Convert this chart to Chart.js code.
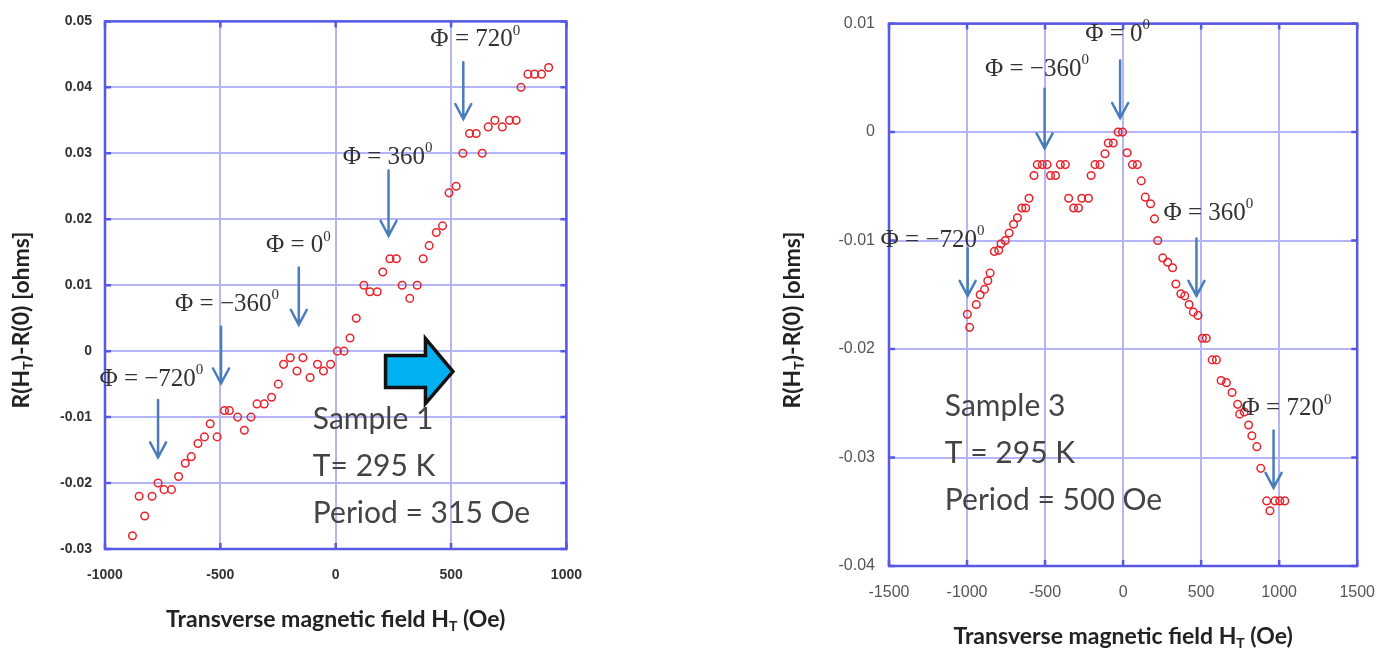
<!DOCTYPE html>
<html>
<head>
<meta charset="utf-8">
<script src="https://cdn.jsdelivr.net/npm/chart.js@4.4.1/dist/chart.umd.min.js"></script>
<style>
  html, body { margin: 0; padding: 0; background: #fff; width: 1392px; height: 652px; overflow: hidden; }
  canvas { position: absolute; top: 0; }
  #sample1 { left: 0; }
  #sample3 { left: 780px; }
</style>
</head>
<body>
<canvas id="sample1" width="600" height="652"></canvas>
<canvas id="sample3" width="612" height="652"></canvas>
<script>
// Sample 1 (period 315 Oe): field in Oe, R(H_T)-R(0) in ohms
const sample1Field = [-881, -852, -828, -796, -770, -744, -712, -681, -652, -626,
  -597, -569, -544, -514, -482, -461, -425, -396, -367, -341,
  -310, -278, -249, -226, -197, -168, -142, -111, -79, -53,
  -22, 7, 36, 62, 89, 122, 148, 180, 204, 235,
  263, 288, 321, 353, 379, 405, 436, 463, 491, 522,
  551, 580, 609, 635, 661, 690, 722, 753, 782, 803,
  833, 862, 892, 923];
const sample1Resistance = [-0.028, -0.022, -0.025, -0.022, -0.020, -0.021, -0.021, -0.019, -0.017, -0.016,
  -0.014, -0.013, -0.011, -0.013, -0.009, -0.009, -0.010, -0.012, -0.010, -0.008,
  -0.008, -0.007, -0.005, -0.002, -0.001, -0.003, -0.001, -0.004, -0.002, -0.003,
  -0.002, 0, 0, 0.002, 0.005, 0.010, 0.009, 0.009, 0.012, 0.014,
  0.014, 0.010, 0.008, 0.010, 0.014, 0.016, 0.018, 0.019, 0.024, 0.025,
  0.030, 0.033, 0.033, 0.030, 0.034, 0.035, 0.034, 0.035, 0.035, 0.040,
  0.042, 0.042, 0.042, 0.043];

// Sample 3 (period 500 Oe)
const sample3Field = [-998, -983, -941, -916, -888, -867, -852, -825, -797, -782,
  -755, -730, -702, -677, -649, -624, -603, -571, -550, -518,
  -487, -465, -433, -402, -370, -349, -317, -286, -265, -222,
  -205, -180, -148, -116, -95, -63, -32, -4, 26, 60,
  91, 116, 142, 176, 201, 222, 254, 286, 317, 338,
  370, 395, 423, 450, 480, 508, 533, 571, 598, 628,
  662, 698, 734, 747, 776, 804, 825, 857, 882, 920,
  941, 973, 1004, 1036];
const sample3Resistance = [-0.0168, -0.018, -0.0159, -0.015, -0.0145, -0.0137, -0.013, -0.011, -0.0109, -0.0103,
  -0.010, -0.0093, -0.0085, -0.0079, -0.007, -0.007, -0.0061, -0.004, -0.003, -0.003,
  -0.003, -0.004, -0.004, -0.003, -0.003, -0.0061, -0.007, -0.007, -0.0061, -0.0061,
  -0.004, -0.003, -0.003, -0.002, -0.001, -0.001, 0, 0, -0.0019, -0.003,
  -0.003, -0.0045, -0.006, -0.0066, -0.008, -0.010, -0.0116, -0.012, -0.0125, -0.014,
  -0.0149, -0.0151, -0.0159, -0.0166, -0.0169, -0.019, -0.019, -0.021, -0.021, -0.0229,
  -0.0231, -0.024, -0.0251, -0.026, -0.0258, -0.027, -0.028, -0.029, -0.031, -0.034,
  -0.0349, -0.034, -0.034, -0.034];

const sample1Phases = ['\u2212720', '\u2212360', '0', '360', '720'];
const sample3Phases = ['\u2212720', '\u2212360', '0', '360', '720'];
const sample1Notes = ['Sample 1', 'T= 295 K', 'Period = 315 Oe'];
const sample3Notes = ['Sample 3', 'T = 295 K', 'Period = 500 Oe'];

const xTitle = [{ t: 'Transverse magnetic field H' }, { t: 'T', sub: true }, { t: ' (Oe)' }];
const yTitle = [{ t: 'R(H' }, { t: 'T', sub: true }, { t: ')-R(0) [ohms]' }];

const frameColor = '#5858e6';
const gridColor = '#b4b4f6';
const arrowColor = '#4a7ebb';
const titleFont = "bold 23px Lato, 'Open Sans', sans-serif";
const titleSubFont = "bold 14px Lato, 'Open Sans', sans-serif";
const phaseFont = "25px 'Liberation Serif', 'Times New Roman', serif";
const phaseSupFont = "15px 'Liberation Serif', 'Times New Roman', serif";
const noteFont = "30px Lato, 'Open Sans', sans-serif";

function richWidth(ctx, parts) {
  let w = 0;
  parts.forEach(p => {
    ctx.font = p.sub ? titleSubFont : titleFont;
    w += ctx.measureText(p.t).width;
  });
  return w;
}

function drawRich(ctx, parts, cx, cy) {
  let x = cx - richWidth(ctx, parts) / 2;
  ctx.textAlign = 'left';
  ctx.textBaseline = 'middle';
  parts.forEach(p => {
    ctx.font = p.sub ? titleSubFont : titleFont;
    ctx.fillText(p.t, x, p.sub ? cy + 6 : cy);
    x += ctx.measureText(p.t).width;
  });
}

function drawPhase(ctx, chart, a) {
  const xs = chart.scales.x, ys = chart.scales.y;
  const tx = xs.getPixelForValue(a.textX), ty = ys.getPixelForValue(a.textY);
  const main = '\u03A6 = ' + a.phase;
  ctx.font = phaseFont;
  const w1 = ctx.measureText(main).width;
  ctx.font = phaseSupFont;
  const w2 = ctx.measureText('0').width;
  const x0 = tx - (w1 + w2) / 2;
  ctx.fillStyle = '#333';
  ctx.textAlign = 'left';
  ctx.textBaseline = 'middle';
  ctx.font = phaseFont;
  ctx.fillText(main, x0, ty);
  ctx.font = phaseSupFont;
  ctx.fillText('0', x0 + w1, ty - 9);

  const ax = xs.getPixelForValue(a.arrowX);
  const ay1 = ys.getPixelForValue(a.arrowFrom), ay2 = ys.getPixelForValue(a.arrowTo);
  ctx.strokeStyle = arrowColor;
  ctx.lineWidth = 2.5;
  ctx.lineCap = 'round';
  ctx.beginPath();
  ctx.moveTo(ax, ay1);
  ctx.lineTo(ax, ay2);
  ctx.moveTo(ax - 8, ay2 - 15);
  ctx.lineTo(ax, ay2);
  ctx.lineTo(ax + 8, ay2 - 15);
  ctx.stroke();
}

const decorPlugin = {
  id: 'decor',
  beforeDatasetsDraw(chart) {
    const { ctx, chartArea: a } = chart;
    const xs = chart.scales.x, ys = chart.scales.y;
    ctx.save();
    ctx.strokeStyle = frameColor;
    ctx.lineWidth = 2.5;
    ys.ticks.forEach(t => {
      const y = ys.getPixelForValue(t.value);
      ctx.beginPath();
      ctx.moveTo(a.left, y); ctx.lineTo(a.left + 6, y);
      ctx.moveTo(a.right, y); ctx.lineTo(a.right - 6, y);
      ctx.stroke();
    });
    xs.ticks.forEach(t => {
      const x = xs.getPixelForValue(t.value);
      ctx.beginPath();
      ctx.moveTo(x, a.top); ctx.lineTo(x, a.top + 6);
      ctx.moveTo(x, a.bottom); ctx.lineTo(x, a.bottom - 6);
      ctx.stroke();
    });
    ctx.strokeRect(a.left, a.top, a.right - a.left, a.bottom - a.top);
    ctx.restore();
  },
  afterDatasetsDraw(chart, args, opts) {
    const { ctx, chartArea: a } = chart;
    const xs = chart.scales.x, ys = chart.scales.y;
    ctx.save();
    ctx.fillStyle = '#222';
    drawRich(ctx, xTitle, (a.left + a.right) / 2, a.bottom + opts.xTitleGap);
    ctx.save();
    ctx.translate(opts.yTitleX, 320);
    ctx.rotate(-Math.PI / 2);
    drawRich(ctx, yTitle, 0, 0);
    ctx.restore();

    if (opts.block) {
      const b = opts.block;
      const x0 = xs.getPixelForValue(b.from), xb = xs.getPixelForValue(b.neck), xt = xs.getPixelForValue(b.to);
      const cy = ys.getPixelForValue(b.y);
      ctx.beginPath();
      ctx.moveTo(x0, cy - 16);
      ctx.lineTo(xb, cy - 16);
      ctx.lineTo(xb, cy - 33);
      ctx.lineTo(xt, cy);
      ctx.lineTo(xb, cy + 32);
      ctx.lineTo(xb, cy + 16);
      ctx.lineTo(x0, cy + 16);
      ctx.closePath();
      ctx.fillStyle = '#00b0f0';
      ctx.fill();
      ctx.lineWidth = 3.5;
      ctx.lineJoin = 'miter';
      ctx.strokeStyle = '#111';
      ctx.stroke();
    }

    opts.phases.forEach(p => drawPhase(ctx, chart, p));

    ctx.fillStyle = '#444';
    ctx.font = noteFont;
    ctx.textAlign = 'left';
    ctx.textBaseline = 'middle';
    const nx = xs.getPixelForValue(opts.notes.x), ny = ys.getPixelForValue(opts.notes.y);
    opts.notes.lines.forEach((line, i) => ctx.fillText(line, nx, ny + i * opts.notes.gap));
    ctx.restore();
  }
};

function yLabel(v) {
  return Math.abs(v) < 1e-9 ? '0' : v.toFixed(2);
}

function xLabel(v) {
  return String(Math.round(v));
}

function buildChart(id, cfg) {
  const points = cfg.field.map((f, i) => ({ x: f, y: cfg.resistance[i] }));
  return new Chart(document.getElementById(id), {
    type: 'scatter',
    data: {
      datasets: [{
        data: points,
        pointStyle: 'circle',
        pointRadius: 3.8,
        pointBorderWidth: 1.5,
        borderColor: '#e8232b',
        backgroundColor: 'rgba(255,255,255,0)',
        pointHoverRadius: 3.8
      }]
    },
    plugins: [decorPlugin],
    options: {
      responsive: false,
      animation: false,
      layout: { padding: cfg.padding },
      plugins: {
        legend: { display: false },
        tooltip: { enabled: false },
        decor: cfg.decor
      },
      scales: {
        x: {
          type: 'linear',
          min: cfg.xMin, max: cfg.xMax,
          ticks: { stepSize: 500, padding: cfg.xPad, color: cfg.tickColor, font: cfg.tickFont, callback: xLabel, maxRotation: 0, autoSkip: false },
          grid: { color: gridColor, lineWidth: 2, drawTicks: false },
          border: { display: false },
          afterFit(scale) { scale.height = cfg.xHeight; }
        },
        y: {
          type: 'linear',
          min: cfg.yMin, max: cfg.yMax,
          ticks: { stepSize: 0.01, padding: cfg.yPad, color: cfg.tickColor, font: cfg.tickFont, callback: yLabel, autoSkip: false },
          grid: { color: gridColor, lineWidth: 2, drawTicks: false },
          border: { display: false },
          afterFit(scale) { scale.width = cfg.yWidth; }
        }
      }
    }
  });
}

buildChart('sample1', {
  field: sample1Field,
  resistance: sample1Resistance,
  xMin: -1000, xMax: 1000, yMin: -0.03, yMax: 0.05,
  padding: { top: 16, right: 32, left: 0, bottom: 0 },
  xHeight: 103, yWidth: 105, xPad: 18, yPad: 13,
  tickColor: '#333',
  tickFont: { family: "'Liberation Sans', Arial, sans-serif", size: 14, weight: 'bold' },
  decor: {
    xTitleGap: 71, yTitleX: 22,
    block: { from: 216, neck: 389, to: 508, y: -0.0031 },
    phases: [
      { phase: sample1Phases[0], textX: -799, textY: -0.0043, arrowX: -770, arrowFrom: -0.0074, arrowTo: -0.0161 },
      { phase: sample1Phases[1], textX: -471, textY: 0.0071, arrowX: -497, arrowFrom: 0.0037, arrowTo: -0.0049 },
      { phase: sample1Phases[2], textX: -162, textY: 0.016, arrowX: -160, arrowFrom: 0.0127, arrowTo: 0.0040 },
      { phase: sample1Phases[3], textX: 225, textY: 0.0294, arrowX: 229, arrowFrom: 0.0274, arrowTo: 0.0175 },
      { phase: sample1Phases[4], textX: 605, textY: 0.0472, arrowX: 553, arrowFrom: 0.0438, arrowTo: 0.0352 }
    ],
    notes: { lines: sample1Notes, x: -99, y: -0.0103, gap: 47 }
  }
});

buildChart('sample3', {
  field: sample3Field,
  resistance: sample3Resistance,
  xMin: -1500, xMax: 1500, yMin: -0.04, yMax: 0.01,
  padding: { top: 22, right: 30, left: 0, bottom: 0 },
  xHeight: 86, yWidth: 109, xPad: 17, yPad: 14,
  tickColor: '#555',
  tickFont: { family: "'Liberation Sans Narrow', 'Arial Narrow', 'Liberation Sans', sans-serif", size: 16 },
  decor: {
    xTitleGap: 71, yTitleX: 13,
    block: null,
    phases: [
      { phase: sample3Phases[0], textX: -1221, textY: -0.0100, arrowX: -996, arrowFrom: -0.0107, arrowTo: -0.0151 },
      { phase: sample3Phases[1], textX: -552, textY: 0.0058, arrowX: -503, arrowFrom: 0.0040, arrowTo: -0.0015 },
      { phase: sample3Phases[2], textX: -35, textY: 0.0090, arrowX: -19, arrowFrom: 0.0066, arrowTo: 0.0013 },
      { phase: sample3Phases[3], textX: 546, textY: -0.0075, arrowX: 470, arrowFrom: -0.0098, arrowTo: -0.0151 },
      { phase: sample3Phases[4], textX: 1047, textY: -0.0255, arrowX: 964, arrowFrom: -0.0275, arrowTo: -0.0328 }
    ],
    notes: { lines: sample3Notes, x: -1142, y: -0.0253, gap: 47 }
  }
});
</script>
</body>
</html>
